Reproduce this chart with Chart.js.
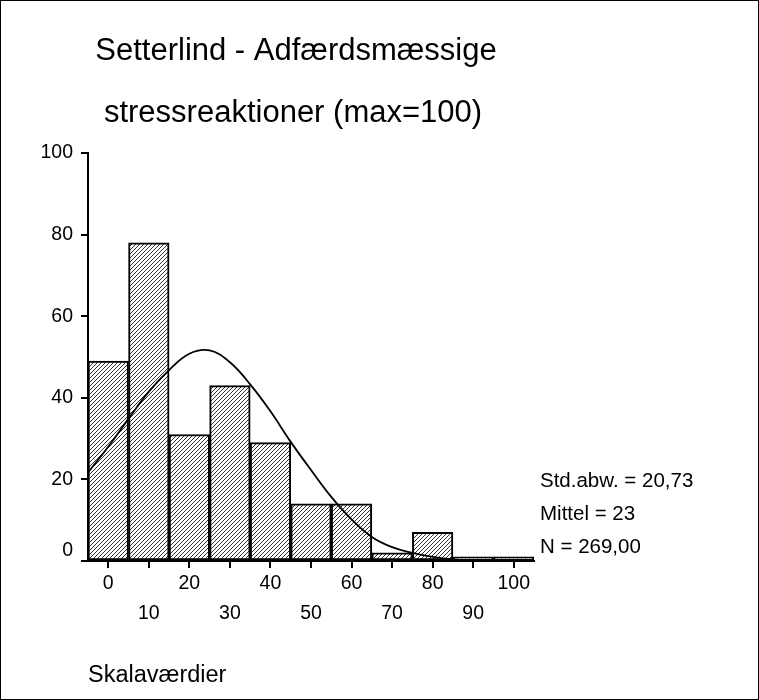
<!DOCTYPE html>
<html>
<head>
<meta charset="utf-8">
<script src="https://cdn.jsdelivr.net/npm/chart.js@4/dist/chart.umd.min.js"></script>
<style>
  html, body { margin: 0; padding: 0; background: #fff; }
  canvas { display: block; }
</style>
</head>
<body>
<canvas id="c" width="759" height="700"></canvas>
<script>
// ---- data ----
const binCenters = [0, 10, 20, 30, 40, 50, 60, 70, 80, 90, 100];
const binCounts  = [49, 78, 31, 43, 29, 14, 14, 2, 7, 1, 1];
const curveX = [-5, 0, 5, 10, 15, 20, 25, 30, 35, 40, 45, 50, 55, 60, 65, 70, 75, 80, 85, 90, 95, 100, 105];
const curveY = [21.7, 28.0, 34.9, 41.5, 46.8, 50.8, 51.6, 48.7, 43.3, 36.7, 29.2, 22.3, 15.7, 10.2, 5.9, 3.4, 2.0, 1.0, 0.4, 0.2, 0.1, 0.05, 0.02];
const xTickValues = [0, 10, 20, 30, 40, 50, 60, 70, 80, 90, 100];
const yTickValues = [0, 20, 40, 60, 80, 100];
const titleLines = ['Setterlind - Adfærdsmæssige', 'stressreaktioner (max=100)'];
const statLines = ['Std.abw. = 20,73', 'Mittel = 23', 'N = 269,00'];
const xAxisTitle = 'Skalaværdier';

const FONT = '"Liberation Sans", Arial, Helvetica, sans-serif';

// hatch pattern
function makeHatch() {
  const p = document.createElement('canvas');
  p.width = 4; p.height = 4;
  const g = p.getContext('2d');
  g.fillStyle = '#fff';
  g.fillRect(0, 0, 4, 4);
  g.fillStyle = '#333';
  for (let i = 0; i < 4; i++) g.fillRect(i, 3 - i, 1, 1);
  return document.getElementById('c').getContext('2d').createPattern(p, 'repeat');
}

const decor = {
  id: 'decor',
  beforeDraw(chart) {
    const ctx = chart.ctx;
    ctx.save();
    ctx.fillStyle = '#fff';
    ctx.fillRect(0, 0, chart.width, chart.height);
    ctx.restore();
  },
  afterDraw(chart) {
    const ctx = chart.ctx;
    ctx.save();
    ctx.fillStyle = '#000';
    ctx.textBaseline = 'alphabetic';
    ctx.textAlign = 'center';
    ctx.font = '31px ' + FONT;
    ctx.fillText(titleLines[0], 296, 60);
    ctx.fillText(titleLines[1], 293, 122);
    ctx.textAlign = 'left';
    ctx.font = '20.5px ' + FONT;
    statLines.forEach((t, i) => ctx.fillText(t, 540, 487 + i * 33));
    ctx.strokeStyle = '#000';
    ctx.lineWidth = 1;
    ctx.strokeRect(0.5, 0.5, chart.width - 1, chart.height - 1);
    ctx.restore();
  }
};

new Chart(document.getElementById('c'), {
  type: 'bar',
  data: {
    datasets: [
      {
        type: 'line',
        data: curveX.map((x, i) => ({ x: x, y: curveY[i] })),
        borderColor: '#000',
        borderWidth: 1.8,
        pointRadius: 0,
        tension: 0.4,
        fill: false,
        order: 0
      },
      {
        type: 'bar',
        data: binCenters.map((x, i) => ({ x: x, y: binCounts[i] })),
        backgroundColor: makeHatch(),
        borderColor: '#000',
        borderWidth: 2,
        borderSkipped: false,
        categoryPercentage: 1.0,
        barPercentage: 1.0,
        order: 1
      }
    ]
  },
  options: {
    responsive: false,
    animation: false,
    layout: { padding: { top: 153, right: 225, bottom: 0, left: 0 } },
    plugins: { legend: { display: false }, tooltip: { enabled: false }, title: { display: false } },
    scales: {
      x: {
        type: 'linear',
        min: -5,
        max: 105,
        offset: false,
        afterBuildTicks(s) { s.ticks = xTickValues.map(v => ({ value: v })); },
        afterFit(s) { s.height = 139; },
        grid: { display: true, drawOnChartArea: false, offset: false, tickLength: 7, lineWidth: 2, color: '#000' },
        border: { display: true, color: '#000', width: 2 },
        ticks: {
          autoSkip: false,
          maxRotation: 0,
          padding: 1,
          color: '#000',
          font: { family: FONT, size: 19.5, lineHeight: '30px' },
          callback(v) { return (v % 20 === 0) ? String(v) : ['', String(v)]; }
        },
        title: {
          display: true,
          text: xAxisTitle,
          align: 'start',
          color: '#000',
          font: { family: FONT, size: 23.5 },
          padding: { top: 0, bottom: 10 }
        }
      },
      y: {
        type: 'linear',
        min: 0,
        max: 100,
        afterBuildTicks(s) { s.ticks = yTickValues.map(v => ({ value: v })); },
        afterFit(s) { s.width = 88; },
        grid: { display: true, drawOnChartArea: false, tickLength: 7, lineWidth: 2, color: '#000' },
        border: { display: true, color: '#000', width: 2 },
        ticks: {
          padding: 8,
          color: '#000',
          font: { family: FONT, size: 19.5, lineHeight: '20px' },
          callback(v) { return v === 0 ? ['0', ''] : String(v); }
        }
      }
    }
  },
  plugins: [decor]
});
</script>
</body>
</html>
